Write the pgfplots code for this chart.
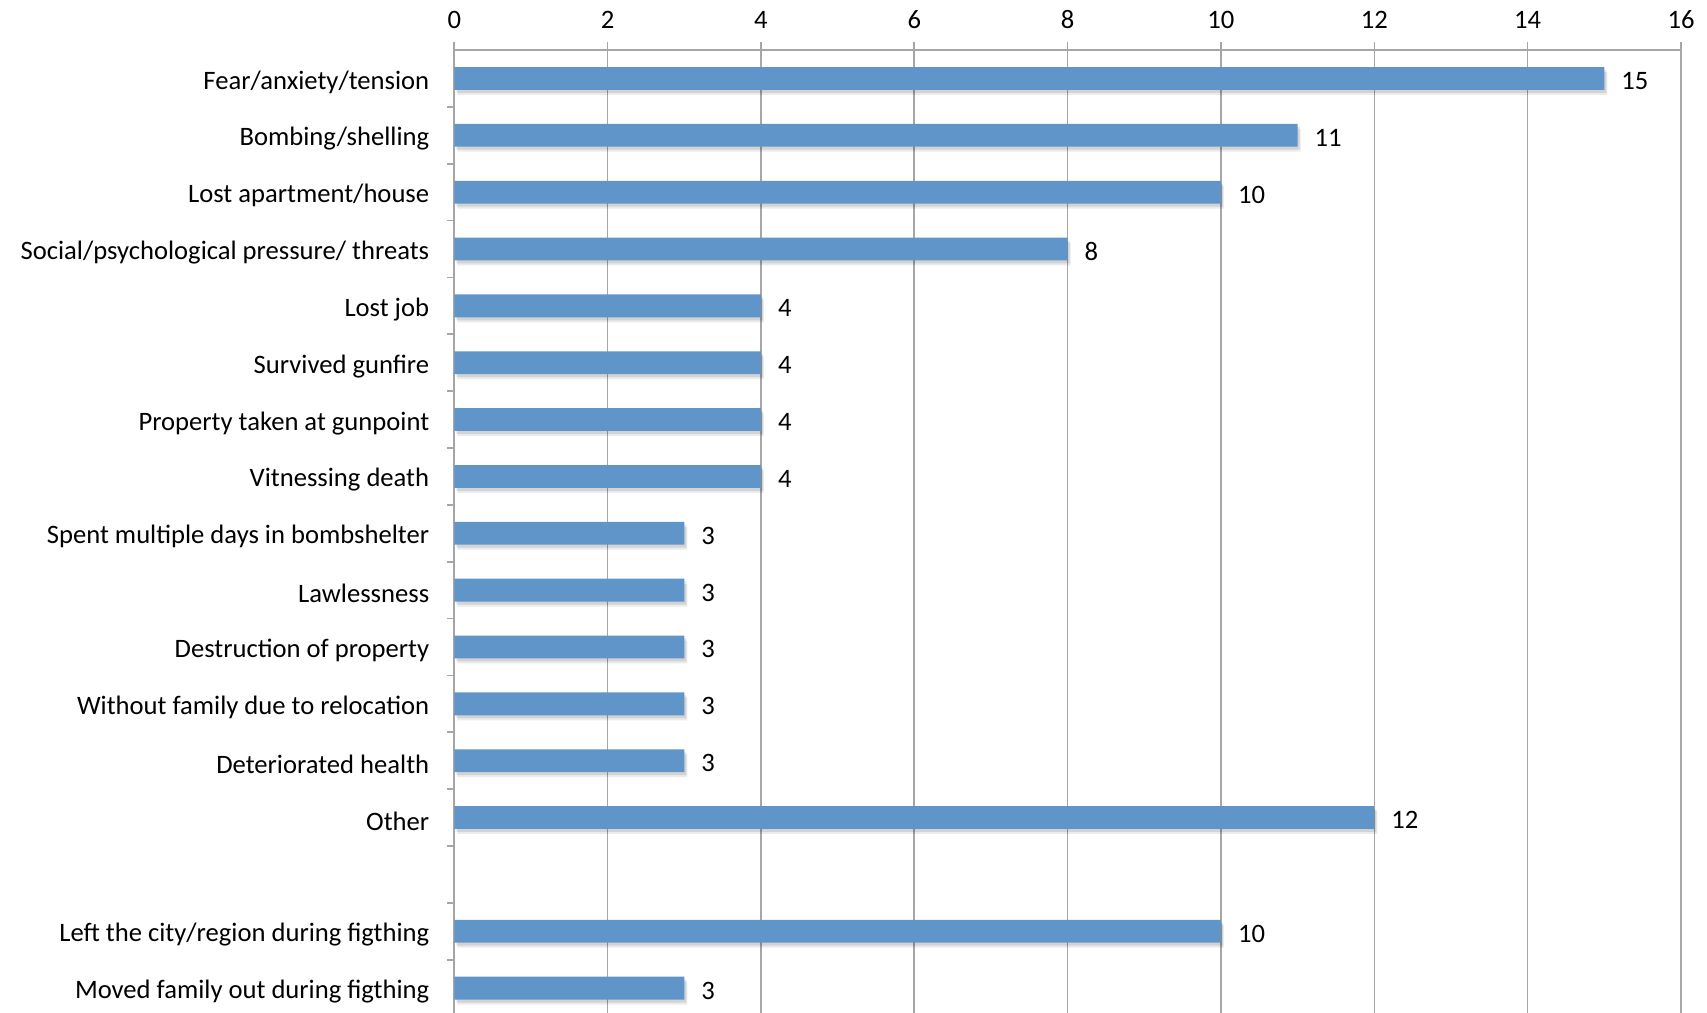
\documentclass[border=0pt]{standalone}
\usepackage{pgfplots}
\pgfplotsset{compat=1.18}
\usepackage{fontspec}
\setmainfont{Carlito}
\definecolor{barblue}{HTML}{5F95C8}
\definecolor{gridgray}{HTML}{A6A6A6}
\pgfplotstableread{
val pos
15 17
11 16
10 15
8 14
4 13
4 12
4 11
4 10
3 9
3 8
3 7
3 6
3 5
12 4
10 2
3 1
}\datatable
\begin{document}
\begin{tikzpicture}
\begin{axis}[
  name=ax,
  scale only axis,
  width=613pt, height=481pt,
  xmin=0, xmax=16,
  ymin=0.57, ymax=17.5,
  axis x line*=top,
  axis y line*=left,
  axis line style={draw=gridgray, line width=0.8pt, -},
  xtick={0,2,...,16},
  xmajorgrids,
  major grid style={draw=gridgray, line width=0.8pt},
  tick align=outside,
  major x tick style={draw=gridgray, line width=0.8pt},
  major tick length=4pt,
  minor tick length=3.5pt,
  ytick={1,...,17},
  yticklabels={Moved family out during figthing, Left the city/region during figthing, {}, Other, Deteriorated health, Without family due to relocation, Destruction of property, Lawlessness, Spent multiple days in bombshelter, Vitnessing death, Property taken at gunpoint, Survived gunfire, Lost job, Social/psychological pressure/ threats, Lost apartment/house, Bombing/shelling, Fear/anxiety/tension},
  major y tick style={draw=none},
  minor ytick={1.5,2.5,...,16.5},
  minor y tick style={draw=gridgray, line width=0.8pt},
  ticklabel style={font=\fontsize{13.3}{16}\selectfont},
  /pgf/number format/assume math mode=true,
  yticklabel style={xshift=-5pt, yshift=-1.8pt},
  xticklabel style={yshift=3pt},
  xbar,
  bar width=11.4pt,
  clip=false,
]
\addplot[fill=black, fill opacity=0.10, draw=none, bar shift=-1.5pt, xshift=1pt, forget plot]
  table[x=val, y=pos] {\datatable};
\addplot[fill=black, fill opacity=0.08, draw=none, bar shift=-2.5pt, xshift=1.5pt, forget plot]
  table[x=val, y=pos] {\datatable};
\addplot[fill=barblue, draw=none,
  nodes near coords,
  nodes near coords style={font=\fontsize{13.3}{16}\selectfont, anchor=west, xshift=5pt, yshift=-1.2pt, text opacity=1, fill opacity=1}]
  table[x=val, y=pos] {\datatable};
\end{axis}
\pgfresetboundingbox
\path[use as bounding box] ([shift={(-227pt,0pt)}]ax.south west) rectangle ([shift={(13pt,25pt)}]ax.north east);
\end{tikzpicture}
\end{document}
